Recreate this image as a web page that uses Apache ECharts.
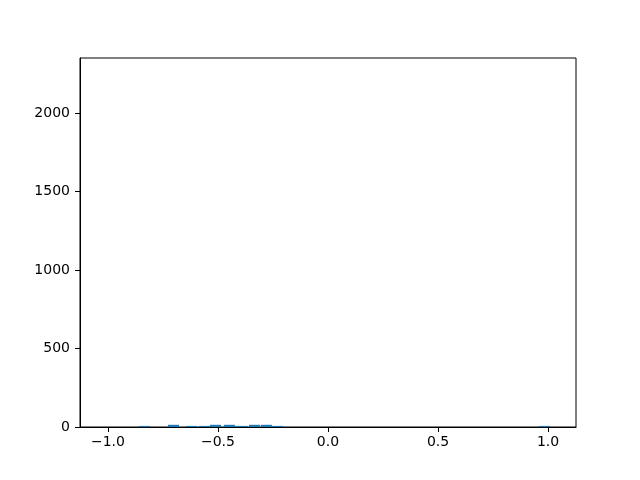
<!DOCTYPE html>
<html>
<head>
<meta charset="utf-8">
<script src="https://cdn.jsdelivr.net/npm/echarts@6/dist/echarts.min.js"></script>
<style>
  html, body { margin: 0; padding: 0; background: #fff; }
  #chart { width: 640px; height: 480px; }
</style>
</head>
<body>
<div id="chart"></div>
<script>
"use strict"

// histogram bins (left edge, right edge, count)
const binLeft  = [-0.859, -0.727, -0.645, -0.586, -0.536, -0.473, -0.423, -0.359, -0.305, -0.255, 0.959];
const binRight = [-0.809, -0.677, -0.595, -0.536, -0.486, -0.423, -0.364, -0.309, -0.255, -0.205, 1.009];
const counts   = [7, 14, 7, 7, 14, 14, 7, 14, 14, 7, 7];

const xTicks = [-1.0, -0.5, 0.0, 0.5, 1.0];
const yTicks = [0, 500, 1000, 1500, 2000];

const barColor = "#1f77b4";

const binData = binLeft.map((l, i) => [l, binRight[i], counts[i]]);

const renderBin = (params, api) => {
    const p0 = api.coord([api.value(0), 0]);
    const p1 = api.coord([api.value(1), api.value(2)]);
    return {
        type: "rect",
        shape: { x: p0[0], y: p1[1], width: p1[0] - p0[0], height: p0[1] - p1[1] },
        style: { fill: barColor }
    };
};

// matplotlib style minus sign
const fmtX = (v) => v.toFixed(1).replace("-", "\u2212");

const chart = echarts.init(document.getElementById("chart"));

chart.setOption({
    animation: false,
    textStyle: { fontFamily: "DejaVu Sans" },
    grid: {
        left: 80, right: 64, top: 58, bottom: 53,
        show: true, borderColor: "#000", borderWidth: 1, backgroundColor: "#fff"
    },
    xAxis: {
        type: "value",
        min: -1.127,
        max: 1.127,
        splitLine: { show: false },
        axisLine: { show: true, onZero: false, lineStyle: { color: "#000" } },
        axisTick: { show: true, length: 5, customValues: xTicks, lineStyle: { color: "#000" } },
        axisLabel: {
            customValues: xTicks,
            color: "#000", fontSize: 14, margin: 8,
            formatter: fmtX
        }
    },
    yAxis: {
        type: "value",
        min: 0,
        max: 2350,
        splitLine: { show: false },
        axisLine: { show: true, onZero: false, lineStyle: { color: "#000" } },
        axisTick: { show: true, length: 5, customValues: yTicks, lineStyle: { color: "#000" } },
        axisLabel: {
            customValues: yTicks,
            color: "#000", fontSize: 14, margin: 10,
            formatter: (v) => String(v)
        }
    },
    series: [{
        type: "custom",
        renderItem: renderBin,
        encode: { x: [0, 1], y: 2 },
        data: binData
    }]
});
</script>
</body>
</html>
